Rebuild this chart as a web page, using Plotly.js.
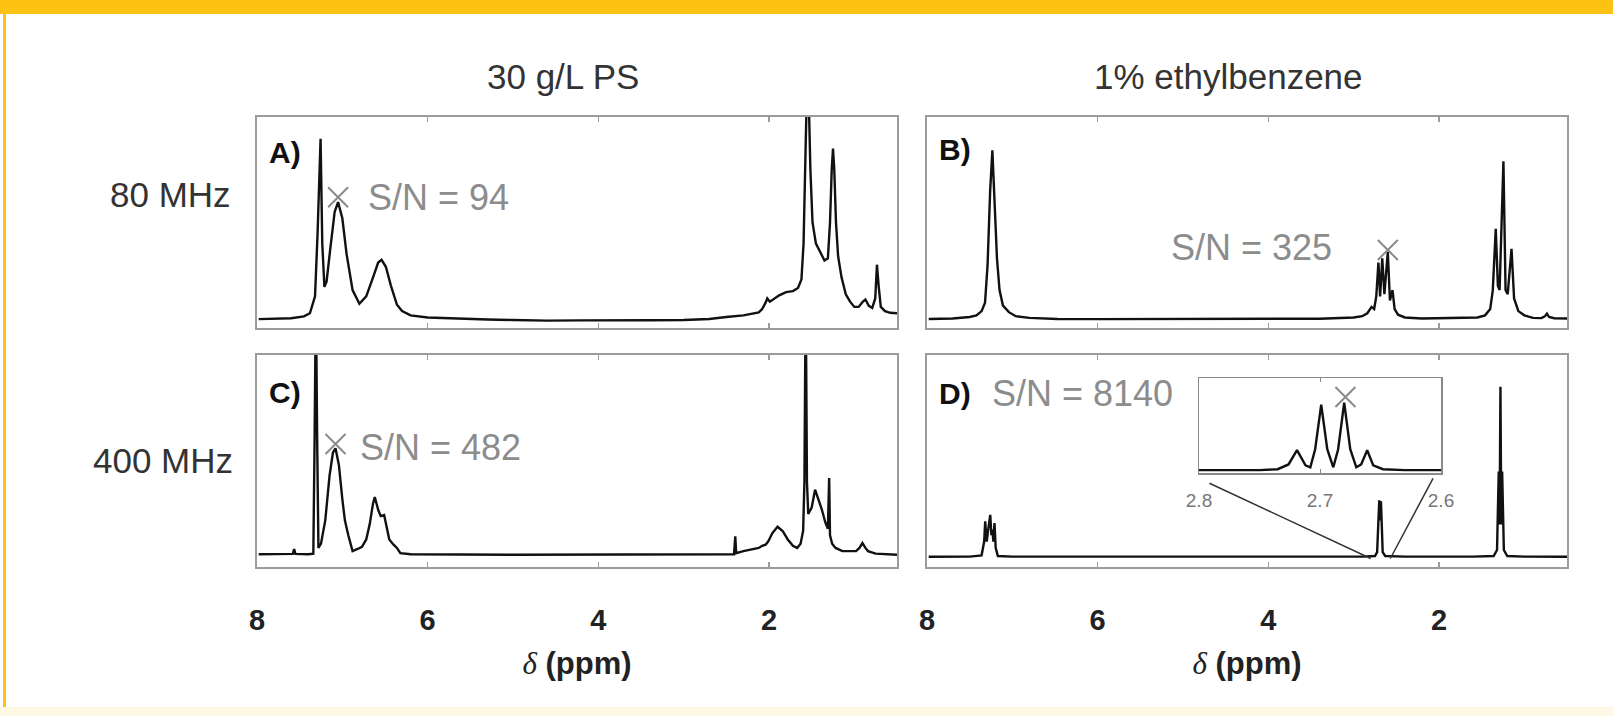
<!DOCTYPE html>
<html><head><meta charset="utf-8">
<script src="https://cdn.plot.ly/plotly-3.0.1.min.js"></script>
<style>html,body{margin:0;padding:0;background:#fff}</style>
</head><body><div id="chart" style="width:1613px;height:716px"></div>
<script>
// ---------- data ----------
const columnTitles = ['30 g/L PS', '1% ethylbenzene'];
const rowTitles = ['80 MHz', '400 MHz'];
const panelLabels = ['A)', 'B)', 'C)', 'D)'];
const snLabels = ['S/N = 94', 'S/N = 325', 'S/N = 482', 'S/N = 8140'];
const xTickVals = [8, 6, 4, 2];
const insetTickVals = [2.8, 2.7, 2.6];

// A) 30 g/L PS, 80 MHz
const ppmA = [7.98,7.80,7.60,7.45,7.38,7.32,7.29,7.255,7.235,7.21,
  7.185,7.14,7.09,7.05,7.00,6.95,6.88,6.80,6.72,6.64,
  6.58,6.54,6.49,6.43,6.36,6.30,6.20,6.00,5.70,5.30,
  5.00,4.60,4.20,3.80,3.40,3.00,2.70,2.50,2.30,2.12,
  2.08,2.04,2.02,1.99,1.95,1.88,1.80,1.72,1.66,1.62,
  1.595,1.575,1.555,1.535,1.515,1.49,1.45,1.40,1.35,1.31,
  1.285,1.265,1.25,1.235,1.215,1.19,1.15,1.10,1.05,1.00,
  0.95,0.90,0.87,0.83,0.79,0.755,0.735,0.715,0.69,0.64,
  0.58,0.50];
const intA = [4.2,4.5,4.6,5.5,7,15,45,89.7,40,19.5,
  22,38,55,59.7,52,35,18,11.5,15,24,
  31,32.3,29,20,11,8,6,5,4.5,4,
  3.8,3.5,3.6,3.5,3.7,3.8,4.3,5.2,6,7.4,
  9,12,14,12.5,13.5,15.5,17,17.5,19,23,
  40,80,115,110,75,50,40,36,32,33,
  50,75,85,75,50,34,24,16,12.5,10,
  10,12.5,13.5,10.5,9.5,14,30,20,10,8,
  7.2,7];

// B) 1% ethylbenzene, 80 MHz
const ppmB = [7.98,7.70,7.50,7.42,7.36,7.32,7.29,7.26,7.234,7.21,
  7.18,7.15,7.11,7.04,6.96,6.80,6.47,6.00,5.00,4.00,
  3.40,3.00,2.90,2.84,2.79,2.76,2.735,2.71,2.69,2.665,
  2.64,2.60,2.575,2.545,2.52,2.48,2.40,2.20,1.80,1.55,
  1.46,1.40,1.37,1.335,1.31,1.29,1.245,1.22,1.195,1.15,
  1.12,1.07,1.00,0.90,0.80,0.76,0.735,0.71,0.65,0.50];
const intB = [4.3,4.5,5.2,6,8,12,30,65,84.2,62,
  33,18,10.6,7.5,5.6,4.8,4.3,4.2,4.2,4.3,
  4.4,5,5.6,7,10,9,15,31,15,33,
  16,36,13,18,9,6.3,5,4.5,4.6,5,
  6,9,17.7,47,20,18,79,18,16,37.5,
  14,8,6,4.8,4.7,5.5,6.8,5.2,4.6,4.5];

// C) 30 g/L PS, 400 MHz
const ppmC = [7.98,7.70,7.58,7.565,7.55,7.40,7.34,7.325,7.31,7.295,
  7.28,7.25,7.20,7.15,7.11,7.08,7.04,7.00,6.97,6.93,
  6.88,6.82,6.77,6.72,6.68,6.64,6.62,6.58,6.55,6.51,
  6.48,6.45,6.40,6.36,6.32,6.20,5.00,3.00,2.45,2.41,
  2.395,2.385,2.30,2.20,2.12,2.08,2.04,2.01,1.96,1.90,
  1.84,1.78,1.72,1.67,1.63,1.60,1.585,1.57,1.555,1.54,
  1.50,1.46,1.42,1.38,1.34,1.31,1.295,1.285,1.26,1.22,
  1.14,1.05,0.98,0.94,0.905,0.87,0.84,0.75,0.60,0.50];
const intC = [6,6,6.2,8.5,6.2,6,6.3,60,130,60,
  9,11,22,43,54,56,48,32,22,15,
  7.5,8.5,9.5,13,20,30,33,27,24,24.5,
  19,13,10.5,9,6.5,6,5.8,5.8,5.9,6,
  14.5,6.5,7.5,8.2,9,10,10.5,12,16,19,
  17,13,10,9,11,17,40,130,40,25,
  28,36.5,32,27,21,18,42,15,11,9,
  7.5,7.5,7.5,9,11.3,9,7.5,6.3,6,5.8];

// D) 1% ethylbenzene, 400 MHz
const ppmD = [7.98,7.50,7.36,7.33,7.318,7.30,7.288,7.272,7.259,7.245,
  7.234,7.222,7.209,7.195,7.17,7.00,5.00,3.50,2.90,2.75,
  2.725,2.70,2.69,2.68,2.66,2.63,2.40,1.60,1.36,1.32,
  1.30,1.29,1.28,1.27,1.26,1.24,1.20,1.00,0.70,0.50];
const intD = [4.8,4.9,5.5,12,21.5,12,16,22,24.6,15,
  17.6,12,20.7,9,5.2,4.9,4.8,4.8,4.9,5.2,
  7,31.5,22,31,7,5.2,4.9,4.9,5.2,8,
  45,20,85,20,45,8,5.2,4.9,4.8,4.8];

// D inset: CH2 quartet, 2.8 - 2.6 ppm
const ppmInset = [2.80,2.75,2.735,2.726,2.719,2.712,2.708,2.704,2.699,2.694,
  2.689,2.685,2.680,2.675,2.670,2.666,2.661,2.656,2.648,2.63,2.60];
const intInset = [3,3,4,9,24,8,6,25,72,25,
  6,25,74,25,6,9,24,8,4,3,3];

// peaks used for S/N (x markers)
const snPpm = [7.05, 2.60, 7.08, 2.679];
const snInt = [62, 37, 58, 80];

// ---------- figure ----------
const W = 1613, H = 716;
const px = v => v / W;
const py = v => 1 - v / H;
const FONT = 'Liberation Sans, Arial, sans-serif';
const gray = '#9b9b9b';
const markGray = '#8a8a8a';

const colDom = [[px(257), px(897)], [px(927), px(1567)]];
const rowDom = [[py(328), py(117)], [py(567), py(355)]];

function spec(x, y, xa, ya) {
  return {x: x, y: y, xaxis: xa, yaxis: ya, type: 'scatter', mode: 'lines',
    line: {color: '#111', width: 2.4}, hoverinfo: 'x+y', showlegend: false};
}
function mark(i, xa, ya) {
  return {x: [snPpm[i]], y: [snInt[i]], xaxis: xa, yaxis: ya, type: 'scatter', mode: 'markers',
    marker: {symbol: 'x-thin-open', size: 20, color: markGray, line: {color: markGray, width: 2}},
    cliponaxis: false, showlegend: false, hoverinfo: 'skip'};
}

const traces = [
  spec(ppmA, intA, 'x', 'y'),
  spec(ppmB, intB, 'x2', 'y2'),
  spec(ppmC, intC, 'x3', 'y3'),
  spec(ppmD, intD, 'x4', 'y4'),
  spec(ppmInset, intInset, 'x5', 'y5'),
  mark(0, 'x', 'y'), mark(1, 'x2', 'y2'), mark(2, 'x3', 'y3'), mark(3, 'x5', 'y5')
];

function xax(dom, anchor, labels) {
  return {domain: dom, anchor: anchor, range: [8, 0.5], showgrid: false, zeroline: false,
    showline: true, linecolor: gray, linewidth: 2, mirror: 'ticks',
    ticks: 'inside', ticklen: 5, tickwidth: 1.5, tickcolor: gray,
    tickvals: xTickVals, showticklabels: labels,
    tickfont: {family: FONT, size: 29, color: '#222', weight: 'bold'},
    ticklabelstandoff: 26, fixedrange: true,
    title: labels ? {text: '<span style="font-family:Liberation Serif"><i>δ</i></span> <b>(ppm)</b>',
      font: {family: FONT, size: 31, color: '#222'}, standoff: 18} : {text: ''}};
}
function yax(dom, anchor) {
  return {domain: dom, anchor: anchor, range: [0, 100], showgrid: false, zeroline: false,
    showline: true, linecolor: gray, linewidth: 2, mirror: true, ticks: '',
    showticklabels: false, fixedrange: true};
}

const ann = [];
function txt(t, x, y, opts) {
  ann.push(Object.assign({text: t, x: x, y: y, xref: 'paper', yref: 'paper', showarrow: false,
    xanchor: 'center', yanchor: 'middle', font: {family: FONT, size: 35, color: '#333'}}, opts || {}));
}
txt(columnTitles[0], px(563), py(77));
txt(columnTitles[1], px(1228), py(77));
txt(rowTitles[0], px(233), py(195), {xanchor: 'right'});
txt(rowTitles[1], px(235), py(461), {xanchor: 'right'});
const lblPos = [[267, 152], [937, 150], [267, 392], [937, 393]];
panelLabels.forEach((t, i) => txt('<b>' + t + '</b>', px(lblPos[i][0]), py(lblPos[i][1]),
  {xanchor: 'left', font: {family: FONT, size: 30, color: '#111'}}));
const snPos = [[366, 197], [1169, 248], [358, 447], [990, 393]];
snLabels.forEach((t, i) => txt(t, px(snPos[i][0]), py(snPos[i][1]),
  {xanchor: 'left', font: {family: FONT, size: 36, color: '#8c8c8c'}}));

const yellow = '#FCC314';
const shapes = [
  {type: 'rect', xref: 'paper', yref: 'paper', x0: 0, x1: 1, y0: py(14), y1: 1,
    fillcolor: yellow, line: {width: 0}, layer: 'below'},
  {type: 'rect', xref: 'paper', yref: 'paper', x0: px(3), x1: px(6), y0: 0, y1: 1,
    fillcolor: yellow, line: {width: 0}, layer: 'below'},
  {type: 'rect', xref: 'paper', yref: 'paper', x0: 0, x1: 1, y0: 0, y1: py(707),
    fillcolor: '#FFF8E4', line: {width: 0}, layer: 'below'},
  // zoom lines from the D quartet to the inset
  {type: 'line', xref: 'x4', yref: 'y4', x0: 4.69, y0: 39.5, x1: insetTickVals[0], y1: 4,
    line: {color: '#333', width: 1.5}},
  {type: 'line', xref: 'x4', yref: 'y4', x0: 2.07, y0: 41.8, x1: 2.57, y1: 4,
    line: {color: '#333', width: 1.5}}
];

const layout = {
  width: W, height: H, margin: {l: 0, r: 0, t: 0, b: 0},
  paper_bgcolor: '#fff', plot_bgcolor: '#fff', showlegend: false,
  font: {family: FONT},
  xaxis: xax(colDom[0], 'y', false), yaxis: yax(rowDom[0], 'x'),
  xaxis2: xax(colDom[1], 'y2', false), yaxis2: yax(rowDom[0], 'x2'),
  xaxis3: xax(colDom[0], 'y3', true), yaxis3: yax(rowDom[1], 'x3'),
  xaxis4: xax(colDom[1], 'y4', true), yaxis4: yax(rowDom[1], 'x4'),
  xaxis5: {domain: [px(1199), px(1441)], anchor: 'y5', range: [2.8, 2.6], showgrid: false,
    zeroline: false, showline: true, linecolor: '#8a8a8a', linewidth: 1.5, mirror: 'ticks',
    ticks: 'inside', ticklen: 4, tickcolor: '#8a8a8a', tickvals: insetTickVals,
    ticktext: insetTickVals.map(v => v.toFixed(1)),
    tickfont: {family: FONT, size: 19, color: '#777'}, ticklabelstandoff: 10, fixedrange: true},
  yaxis5: {domain: [py(473), py(378)], anchor: 'x5', range: [0, 100], showgrid: false,
    zeroline: false, showline: true, linecolor: '#8a8a8a', linewidth: 1.5, mirror: true,
    ticks: '', showticklabels: false, fixedrange: true},
  annotations: ann, shapes: shapes
};

Plotly.newPlot('chart', traces, layout, {displayModeBar: false, staticPlot: true});
</script></body></html>
